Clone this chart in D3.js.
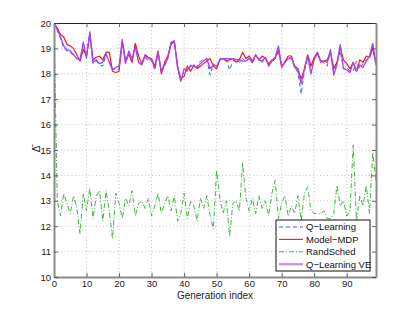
<!DOCTYPE html>
<html>
<head>
<meta charset="utf-8">
<script src="https://cdn.jsdelivr.net/npm/d3@7"></script>
<style>
  body { margin: 0; background: #fff; }
  svg text { font-family: "Liberation Sans", Arial, sans-serif; }
</style>
</head>
<body>
<svg id="chart"></svg>
<script>
var qLearning = [20.0, 19.7, 19.4, 19.0, 18.9, 18.85, 18.7, 18.6, 18.6, 19.1, 18.6, 19.6, 18.4, 18.5, 18.35, 18.3, 18.75, 18.5, 18.2, 18.15,
  18.2, 19.3, 18.4, 18.8, 18.55, 19.1, 18.5, 18.4, 18.65, 18.5, 18.55, 18.15, 18.8, 18.05, 18.3, 18.65, 19.15, 19.25, 18.2, 17.75,
  18.15, 18.1, 18.35, 18.25, 18.3, 18.5, 18.55, 18.55, 17.95, 18.4, 18.25, 18.6, 18.55, 18.55, 18.15, 18.5, 18.6, 18.45, 18.6, 18.45,
  18.65, 18.4, 18.7, 18.6, 18.45, 18.65, 18.35, 18.45, 18.6, 18.9, 18.25, 18.5, 18.65, 18.6, 18.25, 18.05, 17.2, 18.1, 18.65, 18.05,
  18.55, 18.75, 18.6, 18.4, 18.3, 18.9, 18.05, 18.4, 18.9, 18.2, 18.25, 18.1, 18.1, 18.5, 18.2, 18.4, 18.55, 18.6, 19.15, 18.3];
var modelMdp = [20.0, 19.8, 19.55, 19.45, 19.15, 19.1, 19.0, 18.75, 18.5, 18.95, 18.7, 19.55, 18.55, 18.65, 18.7, 18.55, 18.85, 18.85, 18.1, 18.05,
  18.1, 19.25, 18.55, 18.75, 18.45, 19.2, 18.7, 18.4, 18.75, 18.65, 18.6, 18.3, 18.9, 18.0, 18.45, 18.7, 19.2, 19.25, 18.3, 17.8,
  17.9, 18.3, 18.1, 18.35, 18.2, 18.3, 18.4, 18.5, 18.6, 18.3, 18.2, 18.55, 18.6, 18.5, 18.55, 18.6, 18.45, 18.55, 18.85, 18.6,
  18.7, 18.5, 18.75, 18.55, 18.7, 18.6, 18.4, 18.55, 18.6, 18.95, 18.3, 18.45, 18.7, 18.7, 18.3, 18.2, 17.8, 18.2, 18.75, 18.3,
  18.65, 18.85, 18.5, 18.5, 18.55, 18.85, 18.2, 18.45, 19.05, 18.55, 18.4, 18.2, 18.45, 18.1, 18.55, 18.45, 18.7, 18.65, 19.0, 18.4];
var randSched = [20.0, 13.0, 12.4, 13.3, 12.9, 12.5, 13.2, 12.7, 11.7, 13.3, 12.6, 13.5, 12.3, 13.2, 13.4, 12.2, 13.4, 12.6, 11.5, 13.3,
  12.9, 12.3, 13.1, 12.8, 13.4, 12.4, 12.9, 13.0, 12.7, 13.1, 12.4, 12.8, 13.3, 12.5, 12.9, 13.2, 12.6, 13.2, 12.2, 12.5,
  13.3, 12.3, 13.0, 12.8, 12.2, 13.1, 12.7, 13.2, 12.4, 11.9, 14.2, 13.1, 12.5, 13.0, 11.6, 12.9, 13.0, 12.6, 14.5, 13.1,
  12.6, 13.1, 12.5, 13.2, 12.7, 13.0, 12.4, 13.3, 13.8, 12.3, 12.9, 13.2, 12.4, 12.8, 12.5, 13.2, 12.2, 13.3, 13.55, 12.6,
  12.5, 12.5, 12.5, 12.6, 12.3, 12.3, 12.5, 13.6, 12.8, 13.0, 12.4, 12.6, 15.2, 12.2, 13.2, 12.8, 13.6, 12.5, 14.9, 13.8];
var qLearningVe = [20.0, 19.75, 19.45, 19.1, 18.95, 18.9, 18.75, 18.6, 18.55, 19.25, 18.65, 19.65, 18.45, 18.55, 18.4, 18.45, 18.8, 18.45, 18.15, 18.25,
  18.3, 19.35, 18.4, 18.9, 18.6, 19.05, 18.45, 18.35, 18.7, 18.6, 18.55, 18.2, 18.85, 18.1, 18.35, 18.6, 19.25, 19.3, 18.25, 17.7,
  18.2, 18.15, 18.3, 18.3, 18.25, 18.4, 18.5, 18.6, 18.2, 18.35, 18.3, 18.55, 18.6, 18.6, 18.6, 18.6, 18.55, 18.55, 18.5, 18.5,
  18.6, 18.45, 18.75, 18.55, 18.5, 18.65, 18.3, 18.5, 18.65, 19.1, 18.25, 18.45, 18.6, 18.65, 18.25, 18.15, 17.6, 18.2, 18.7, 18.0,
  18.6, 18.8, 18.45, 18.5, 18.45, 18.95, 17.95, 18.35, 19.15, 18.2, 18.15, 18.05, 18.45, 18.1, 18.35, 18.25, 18.5, 18.7, 19.2, 18.35];

var xTicks = [0, 10, 20, 30, 40, 50, 60, 70, 80, 90];
var yTicks = [10, 11, 12, 13, 14, 15, 16, 17, 18, 19, 20];

var series = [
  { name: "Q\u2212Learning", values: qLearning, color: "#3f5cff", width: 1, dash: "4,3", legendW: 1.1 },
  { name: "Model\u2212MDP", values: modelMdp, color: "#ff1414", width: 1.2, dash: null, legendW: 1.1 },
  { name: "RandSched", values: randSched, color: "#44b044", width: 1, dash: "5,2,1,2", legendW: 1 },
  { name: "Q\u2212Learning VE", values: qLearningVe, color: "#a044ff", width: 1.3, dash: null, legendW: 2.2 }
];

var width = 415, height = 312;
var margin = { top: 23, right: 39, bottom: 35, left: 54 };
var plotW = width - margin.left - margin.right;
var plotH = height - margin.top - margin.bottom;

var svg = d3.select("#chart").attr("width", width).attr("height", height);
var g = svg.append("g").attr("transform", "translate(" + margin.left + "," + margin.top + ")");

var x = d3.scaleLinear().domain([0, 99]).range([0, plotW]);
var y = d3.scaleLinear().domain([10, 20]).range([plotH, 0]);

// dotted grid
g.selectAll(".vgrid").data(xTicks.slice(1)).enter().append("line")
  .attr("x1", function (d) { return x(d); }).attr("x2", function (d) { return x(d); })
  .attr("y1", 0).attr("y2", plotH)
  .attr("stroke", "#b4b4b4").attr("stroke-width", 0.8).attr("stroke-dasharray", "1,2.5");
g.selectAll(".hgrid").data(yTicks.slice(1, -1)).enter().append("line")
  .attr("x1", 0).attr("x2", plotW)
  .attr("y1", function (d) { return y(d); }).attr("y2", function (d) { return y(d); })
  .attr("stroke", "#b4b4b4").attr("stroke-width", 0.8).attr("stroke-dasharray", "1,2.5");

// lines
var line = d3.line()
  .x(function (d, i) { return x(i); })
  .y(function (d) { return y(d); });

var clip = svg.append("defs").append("clipPath").attr("id", "clip");
clip.append("rect").attr("x", 0).attr("y", -1).attr("width", plotW).attr("height", plotH + 1);

series.forEach(function (s) {
  g.append("path")
    .attr("clip-path", "url(#clip)")
    .attr("fill", "none")
    .attr("stroke", s.color)
    .attr("stroke-width", s.width)
    .attr("stroke-dasharray", s.dash)
    .attr("stroke-linejoin", "round")
    .attr("d", line(s.values));
});

// axes, ticks inward
var yLeft = d3.axisLeft(y).tickValues(yTicks).tickSizeInner(-4).tickSizeOuter(0).tickPadding(3);
var yRight = d3.axisRight(y).tickValues(yTicks).tickSizeInner(-4).tickSizeOuter(0).tickFormat("");
var xBottom = d3.axisBottom(x).tickValues(xTicks).tickSizeInner(-4).tickSizeOuter(0).tickPadding(3);
var xTop = d3.axisTop(x).tickValues(xTicks).tickSizeInner(-4).tickSizeOuter(0).tickFormat("");

function styleAxis(sel, col, w) {
  sel.select(".domain").attr("stroke", col).attr("stroke-width", w);
  sel.selectAll(".tick line").attr("stroke", "#444").attr("stroke-width", 0.8);
  sel.selectAll("text").style("font-size", "9.5px").attr("fill", "#222");
}

g.append("g").call(xTop).call(styleAxis, "#222", 1);
g.append("g").attr("transform", "translate(0," + plotH + ")").call(xBottom).call(styleAxis, "#8a8a8a", 2);
g.append("g").call(yLeft).call(styleAxis, "#8a8a8a", 2);
g.append("g").attr("transform", "translate(" + plotW + ",0)").call(yRight).call(styleAxis, "#8a8a8a", 2);

// labels
svg.append("text")
  .attr("x", margin.left + plotW / 2)
  .attr("y", 299)
  .attr("text-anchor", "middle")
  .style("font-size", "10px")
  .attr("fill", "#222")
  .text("Generation index");

svg.append("text")
  .attr("transform", "translate(40," + (margin.top + plotH / 2 - 1) + ")rotate(-90)")
  .attr("text-anchor", "middle")
  .style("font-size", "10px")
  .attr("fill", "#222")
  .text("\u0394\u0304");

// legend
var lg = svg.append("g").attr("transform", "translate(276,220)");
lg.append("rect").attr("width", 94).attr("height", 51)
  .attr("fill", "#fff").attr("stroke", "#111").attr("stroke-width", 1);
series.forEach(function (s, i) {
  var yy = 7 + i * 12.4;
  lg.append("line")
    .attr("x1", 3).attr("x2", 27).attr("y1", yy).attr("y2", yy)
    .attr("stroke", s.name.indexOf("VE") > 0 ? "#c68cff" : s.color)
    .attr("stroke-width", s.legendW)
    .attr("stroke-dasharray", s.dash);
  lg.append("text").attr("x", 30).attr("y", yy + 3.3)
    .style("font-size", "9.5px").attr("fill", "#111").text(s.name);
});
</script>
</body>
</html>
